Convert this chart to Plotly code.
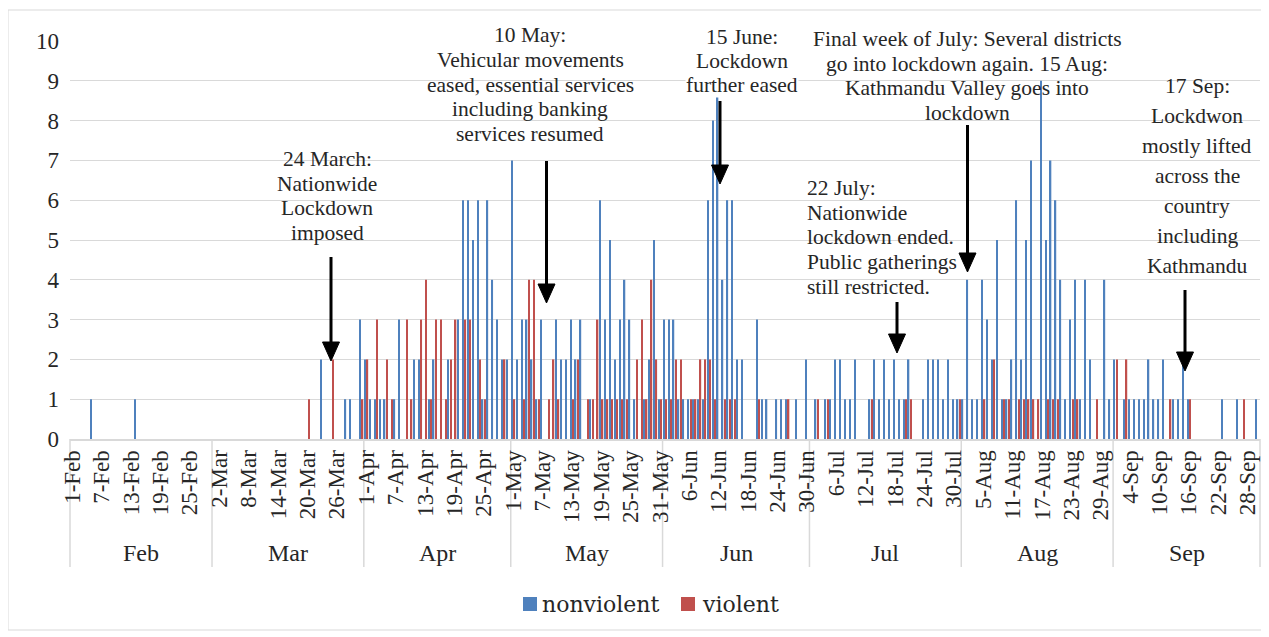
import pandas as pd
import plotly.graph_objects as go

# ---------------- data (daily event counts, 1 Feb - 30 Sep 2020) ----------------
nonviolent_feb = [0,0,0,0,1,0,0,0,0,0, 0,0,0,1,0,0,0,0,0,0, 0,0,0,0,0,0,0,0,0]
violent_feb    = [0,0,0,0,0,0,0,0,0,0, 0,0,0,0,0,0,0,0,0,0, 0,0,0,0,0,0,0,0,0]

nonviolent_mar = [0,0,0,0,0,0,0,0,0,0, 0,0,0,0,0,0,0,0,0,0, 0,0,2,0,0,0,0,1,1,0, 3]
violent_mar    = [0,0,0,0,0,0,0,0,0,0, 0,0,0,0,0,0,0,0,0,1, 0,0,0,0,2,0,0,0,0,0, 1]

nonviolent_apr = [2,1,1,1,1,0,1,3,0,0, 2,2,0,1,2,0,0,2,0,3, 6,6,5,6,1,6,4,3,2,2]
violent_apr    = [2,0,3,0,2,1,0,0,3,1, 0,3,4,1,3,3,1,2,3,0, 3,3,0,2,1,0,0,0,2,0]

nonviolent_may = [7,2,3,3,2,1,3,0,0,3, 2,2,3,2,3,0,1,0,6,3, 5,2,3,4,3,1,0,1,2,5, 1]
violent_may    = [1,0,1,4,4,1,0,1,2,1, 0,0,1,2,0,1,1,3,1,1, 1,1,1,1,0,2,3,1,4,2, 1]

nonviolent_jun = [3,3,3,1,1,1,1,1,1,6, 8,9,4,6,6,2,2,0,0,3, 1,1,0,1,1,1,0,1,0,2]
violent_jun    = [1,1,2,2,0,1,1,2,2,2, 1,0,1,1,1,0,0,0,0,1, 0,0,0,0,0,1,0,0,0,0]

nonviolent_jul = [0,1,0,1,1,2,2,1,1,2, 0,0,1,2,1,2,1,2,1,1, 2,0,0,1,2,2,2,1,2,1, 1]
violent_jul    = [0,1,0,1,0,0,0,0,0,0, 0,0,1,0,0,0,0,0,0,1, 1,0,0,0,0,0,0,0,0,0, 1]

nonviolent_aug = [1,4,1,1,4,3,2,5,1,1, 2,6,2,5,7,0,9,5,7,6, 4,1,3,4,1,4,2,0,0,4, 1]
violent_aug    = [0,0,0,0,1,0,2,0,1,1, 0,1,1,1,1,1,0,1,1,1, 0,0,1,1,0,0,0,1,0,0, 0]

nonviolent_sep = [2,0,1,1,1,1,1,2,1,1, 2,0,1,1,2,1,0,0,0,0, 0,0,1,0,0,1,0,0,0,1]
violent_sep    = [2,0,2,0,0,0,0,0,0,0, 0,1,0,0,0,1,0,0,0,0, 0,0,0,0,0,0,1,0,0,0]

months = ["Feb", "Mar", "Apr", "May", "Jun", "Jul", "Aug", "Sep"]
series_names = ["nonviolent", "violent"]
series_colors = ["#4F81BD", "#C0504D"]

dates = pd.date_range("2020-02-01", "2020-09-30", freq="D")
day_labels = [f"{d.day}-{d.strftime('%b')}" for d in dates]

nonviolent = (nonviolent_feb + nonviolent_mar + nonviolent_apr + nonviolent_may +
              nonviolent_jun + nonviolent_jul + nonviolent_aug + nonviolent_sep)
violent = (violent_feb + violent_mar + violent_apr + violent_may +
           violent_jun + violent_jul + violent_aug + violent_sep)

idx = list(range(len(dates)))
N = len(dates)

# ---------------- geometry helpers (layout only) ----------------
OFF = 8                      # page body margin of the rendered html
W, H = 1269 - OFF, 637 - OFF
ML, MR, MT, MB = 70 - OFF, 17 - OFF, 41 - OFF, 206 - OFF
PW, PH = W - ML - MR, H - MT - MB


def px2x(px):
    return (px - OFF - ML) / (PW / N) - 0.5


def py2y(py):
    return (MT + PH - (py - OFF)) / (PH / 10)


def px2p(px):
    return (px - OFF - ML) / PW


def py2p(py):
    return (MT + PH - (py - OFF)) / PH


SERIF = "Liberation Serif"
TXT = "#262626"
GRID = "#D9D9D9"

fig = go.Figure()
fig.add_trace(go.Bar(x=idx, y=nonviolent, name=series_names[0], marker_color=series_colors[0],
                     marker_line_width=0))
fig.add_trace(go.Bar(x=idx, y=violent, name=series_names[1], marker_color=series_colors[1],
                     marker_line_width=0))

tickvals = idx[::6]
ticktext = [day_labels[i] for i in tickvals]

shapes = []
# month dividers under the axis
month_starts = [0]
for i in range(1, N):
    if dates[i].month != dates[i - 1].month:
        month_starts.append(i)
bounds = month_starts + [N]
for b in bounds:
    shapes.append(dict(type="line", xref="paper", yref="paper",
                       x0=b / N, x1=b / N, y0=0, y1=py2p(567),
                       line=dict(color=GRID, width=1.5), layer="below"))
# outer chart border
shapes.append(dict(type="rect", xref="paper", yref="paper",
                   x0=px2p(8), x1=px2p(1262), y0=py2p(630), y1=py2p(10),
                   line=dict(color=GRID, width=1), fillcolor="rgba(0,0,0,0)", layer="below"))

# arrows: (x px, tail y px, tip y px)
arrows = [(331, 257, 361), (546.5, 161, 303), (720, 101, 184),
          (967.5, 125, 272), (897, 302, 353), (1185, 290, 371)]
HEAD_H, HEAD_W = 19, 8.5
for ax_, ty, tip in arrows:
    shapes.append(dict(type="line", xref="x", yref="y",
                       x0=px2x(ax_), x1=px2x(ax_), y0=py2y(ty), y1=py2y(tip - HEAD_H + 2),
                       line=dict(color="black", width=3)))
    path = (f"M {px2x(ax_ - HEAD_W)},{py2y(tip - HEAD_H)} "
            f"L {px2x(ax_ + HEAD_W)},{py2y(tip - HEAD_H)} "
            f"L {px2x(ax_)},{py2y(tip)} Z")
    shapes.append(dict(type="path", xref="x", yref="y", path=path,
                       fillcolor="black", line=dict(color="black", width=1)))

annotations = []
# month labels
for k, m in enumerate(months):
    cx = (bounds[k] + bounds[k + 1]) / 2 / N
    annotations.append(dict(text=m, xref="paper", yref="paper", x=cx, y=py2p(553),
                            showarrow=False, xanchor="center", yanchor="middle",
                            font=dict(family=SERIF, size=24, color=TXT)))

# event notes: (lines, x px, first line y px, spacing, anchor, white bg)
notes = [
    (["24 March:", "Nationwide", "Lockdown", "imposed"], 327, 159, 24.7, "center", False),
    (["10 May:", "Vehicular movements", "eased, essential services",
      "including banking", "services resumed"], 530, 35, 24.8, "center", False),
    (["15 June:", "Lockdown", "further eased"], 742, 37, 24.2, "center", True),
    (["Final week of July: Several districts", "go into lockdown again. 15 Aug:",
      "Kathmandu Valley goes into", "lockdown"], 967, 39, 24.5, "center", False),
    (["22 July:", "Nationwide", "lockdown ended.", "Public gatherings",
      "still restricted."], 805, 188, 24.7, "left", False),
    (["17 Sep:", "Lockdwon", "mostly lifted", "across the", "country",
      "including", "Kathmandu"], 1197, 86, 30, "center", False),
]
for lines, cx, y0, sp, anchor, bg in notes:
    for j, line in enumerate(lines):
        a = dict(text=line, xref="paper", yref="paper", x=px2p(cx), y=py2p(y0 + j * sp),
                 showarrow=False, xanchor=anchor, yanchor="middle",
                 font=dict(family=SERIF, size=21.5, color=TXT))
        if bg:
            a["bgcolor"] = "white"
            a["borderpad"] = 0
        annotations.append(a)

# legend (drawn as squares + labels, Excel style)
legend_items = [(523, 540), (681, 700)]
for (sx, tx), name, col in zip(legend_items, series_names, series_colors):
    shapes.append(dict(type="rect", xref="paper", yref="paper",
                       x0=px2p(sx), x1=px2p(sx + 14), y0=py2p(611), y1=py2p(597),
                       fillcolor=col, line=dict(width=0)))
    annotations.append(dict(text=name, xref="paper", yref="paper", x=px2p(tx), y=py2p(604),
                            showarrow=False, xanchor="left", yanchor="middle",
                            font=dict(family="DejaVu Serif", size=22, color=TXT)))

fig.update_layout(
    width=W, height=H,
    margin=dict(l=ML, r=MR, t=MT, b=MB, autoexpand=False),
    paper_bgcolor="white", plot_bgcolor="white",
    barmode="group", bargap=0.0, bargroupgap=0.45,
    showlegend=False,
    xaxis=dict(range=[-0.5, N - 0.5], tickmode="array", tickvals=tickvals, ticktext=ticktext,
               tickangle=-90, tickfont=dict(family=SERIF, size=23, color=TXT),
               showgrid=False, zeroline=False, showline=True, linecolor=GRID, linewidth=2,
               ticks="", automargin=False),
    yaxis=dict(range=[0, 10], dtick=1, tickfont=dict(family=SERIF, size=23, color=TXT),
               showgrid=True, gridcolor=GRID, gridwidth=1.3, zeroline=False, showline=False,
               ticks="", ticklabelstandoff=10, automargin=False),
    shapes=shapes, annotations=annotations,
)

fig.write_html("out.html")
